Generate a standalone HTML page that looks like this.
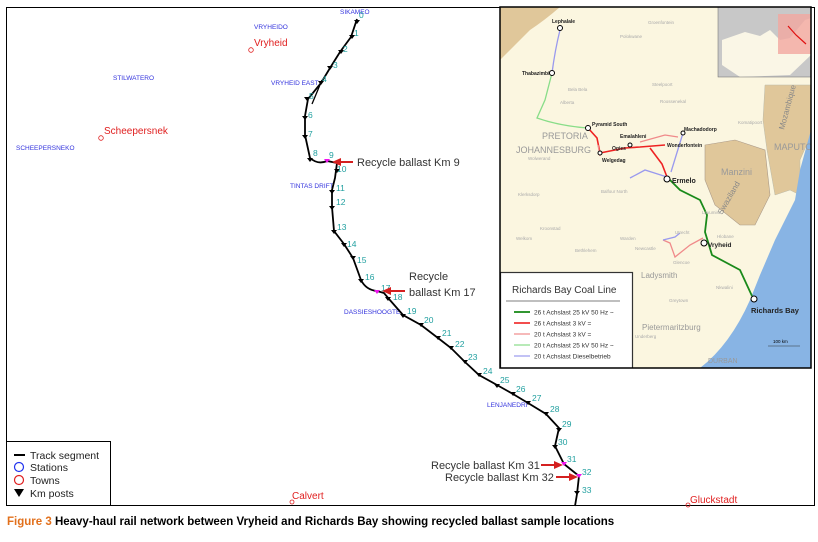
<!DOCTYPE html>
<html><head><meta charset="utf-8"><style>
body{margin:0;background:#fff;width:818px;height:537px;overflow:hidden;font-family:"Liberation Sans",sans-serif}
</style></head><body>
<svg width="818" height="537" viewBox="0 0 818 537" xmlns="http://www.w3.org/2000/svg" font-family="Liberation Sans, sans-serif">
<rect x="6.5" y="7.5" width="808" height="498" fill="#fff" stroke="#000" stroke-width="1"/>
<g fill="#3333dd" font-size="6.5">
<text x="254" y="29">VRYHEIDO</text>
<text x="113" y="80">STILWATERO</text>
<text x="271" y="85">VRYHEID EAST</text>
<text x="16" y="150">SCHEEPERSNEKO</text>
<text x="290" y="188">TINTAS DRIFT</text>
<text x="344" y="314">DASSIESHOOGTE</text>
<text x="487" y="407">LENJANEDRI</text>
<text x="340" y="14">SIKAMEO</text>
</g>
<g fill="#e02020" font-size="10">
<text x="254" y="46">Vryheid</text>
<text x="104" y="134">Scheepersnek</text>
<text x="292" y="499">Calvert</text>
<text x="690" y="503">Gluckstadt</text>
</g>
<g fill="none" stroke="#e02020" stroke-width="0.8">
<circle cx="251" cy="50" r="2.3"/><circle cx="101" cy="138" r="2.3"/><circle cx="292" cy="502" r="2"/><circle cx="688" cy="505" r="2"/>
</g>
<path d="M357,19 L351,37 L340,52 L330,68 L321,83 L308,99 L305,116 L305,135 L310,158 Q318,165 327,161 L337,163 L335,178 L332,190 L332,207 L334,231 L344,244 L353,258 L361,280 Q366,290 377,291 L384,293 L389,299 L403,315 L421,325 L438,338 L451,348 L465,362 L479,375 L497,385 L513,394 L528,403 L546,414 L559,428 L555,446 L564,464 L579,476 L577,494 L575,506" fill="none" stroke="#000" stroke-width="1.8"/>
<path d="M322,80 L312,104" stroke="#000" stroke-width="1.3"/>
<g fill="#000">
<path d="M354,20h6l-3,4z M349,35h6l-3,4z M338,50h6l-3,4z M327,66h6l-3,4z M318,81h6l-3,4z M304,97h6l-3,4z M302,116h6l-3,4z M302,135h6l-3,4z M307,158h6l-3,4z M334,169h6l-3,4z M329,190h6l-3,4z M329,206h6l-3,4z M331,230h6l-3,4z M341,243h6l-3,4z M350,256h6l-3,4z M358,279h6l-3,4z M385,297h6l-3,4z M400,314h6l-3,4z M418,323h6l-3,4z M435,336h6l-3,4z M448,346h6l-3,4z M462,360h6l-3,4z M476,373h6l-3,4z M494,384h6l-3,4z M510,392h6l-3,4z M525,401h6l-3,4z M543,412h6l-3,4z M556,428h6l-3,4z M552,445h6l-3,4z M574,491h6l-3,4z"/>
</g>
<g fill="#ee11ee"><path d="M324,159h6l-3,4z M374,290h6l-3,4z M561,462h6l-3,4z M576,474h6l-3,4z"/></g>
<g fill="#22a0a0" font-size="8.5">
<text x="359" y="18">0</text><text x="354" y="36">1</text><text x="343" y="52">2</text><text x="333" y="68">3</text><text x="322" y="82">4</text><text x="309" y="99">5</text>
<text x="308" y="118">6</text><text x="308" y="137">7</text><text x="313" y="156">8</text><text x="329" y="158">9</text><text x="337" y="172">10</text><text x="336" y="191">11</text><text x="336" y="205">12</text><text x="337" y="230">13</text><text x="347" y="247">14</text><text x="357" y="263">15</text><text x="365" y="280">16</text><text x="381" y="291">17</text><text x="393" y="300">18</text><text x="407" y="314">19</text><text x="424" y="323">20</text><text x="442" y="336">21</text><text x="455" y="347">22</text><text x="468" y="360">23</text><text x="483" y="374">24</text><text x="500" y="383">25</text><text x="516" y="392">26</text><text x="532" y="401">27</text><text x="550" y="412">28</text><text x="562" y="427">29</text><text x="558" y="445">30</text><text x="567" y="462">31</text><text x="582" y="475">32</text><text x="582" y="493">33</text>
</g>
<g fill="#d42020" stroke="#d42020" stroke-width="2">
<line x1="353" y1="162" x2="338" y2="162"/><path d="M332,162 l9,-4 v8z" stroke="none"/>
<line x1="405" y1="291" x2="388" y2="291"/><path d="M382,291 l9,-4 v8z" stroke="none"/>
<line x1="541" y1="465" x2="556" y2="465"/><path d="M563,465 l-9,-4 v8z" stroke="none"/>
<line x1="556" y1="477" x2="571" y2="477"/><path d="M578,477 l-9,-4 v8z" stroke="none"/>
</g>
<g fill="#333" font-size="11">
<text x="357" y="166">Recycle ballast Km 9</text>
<text x="409" y="280">Recycle</text><text x="409" y="296">ballast Km 17</text>
<text x="431" y="469">Recycle ballast Km 31</text>
<text x="445" y="481">Recycle ballast Km 32</text>
</g>
<rect x="6.5" y="441.5" width="104" height="64" fill="#fff" stroke="#000"/>
<line x1="14" y1="455" x2="25" y2="455" stroke="#000" stroke-width="2"/>
<circle cx="19" cy="467" r="4.5" fill="none" stroke="#2233ee" stroke-width="1.2"/>
<circle cx="19" cy="480" r="4.5" fill="none" stroke="#e02020" stroke-width="1.2"/>
<path d="M14,489h10l-5,8z" fill="#000"/>
<g font-size="10.5" fill="#222"><text x="30" y="459">Track segment</text><text x="30" y="471">Stations</text><text x="30" y="484">Towns</text><text x="30" y="497">Km posts</text></g>
<text x="7" y="525" font-size="11.5" font-weight="bold" fill="#000"><tspan fill="#e2701c">Figure 3 </tspan>Heavy-haul rail network between Vryheid and Richards Bay showing recycled ballast sample locations</text>
<g>
<clipPath id="c"><rect x="500" y="7" width="311" height="361"/></clipPath>
<g clip-path="url(#c)">
<rect x="500" y="7" width="311" height="361" fill="#fbf6e0"/>
<path d="M500,7 L560,7 Q545,20 530,30 L515,45 L500,60z" fill="#e0c79a"/>
<path d="M765,85 L811,85 L811,135 L800,160 L800,195 L790,190 L775,195 L767,150 L763,120z" fill="#e0c79a" stroke="#bba" stroke-width="0.5"/>
<path d="M705,145 L735,140 L765,150 L770,195 L755,225 L740,225 L715,205 L705,180z" fill="#e0c79a" stroke="#a98" stroke-width="0.6"/>
<path d="M811,130 L811,368 L700,368 Q730,345 750,300 L760,275 L775,240 L795,200 L800,170z" fill="#88b4e4"/>
<rect x="718" y="7" width="93" height="70" fill="#c8c8c8"/>
<path d="M722,40 L745,32 L760,36 L770,30 L780,40 L790,38 L805,20 L811,18 L811,55 L790,75 L740,77 L722,65z" fill="#faf6e6"/>
<rect x="778" y="14" width="33" height="40" fill="#f2a7a0" opacity="0.8"/>
<path d="M788,26 L796,35 L806,44" stroke="#e01010" fill="none" stroke-width="1.2"/>
<rect x="718" y="7" width="93" height="70" fill="none" stroke="#666" stroke-width="0.5"/>
<g fill="none" stroke-width="1.3">
<path d="M560,30 Q555,50 552,73" stroke="#9999ee"/>
<path d="M552,73 L545,100 L537,118 Q560,126 588,128" stroke="#88dd88"/>
<path d="M588,128 L597,138 L600,153 M600,153 L625,148 L640,147 M640,147 L665,145 M650,148 L662,164 L667,177" stroke="#ee2222" stroke-width="1.6"/>
<path d="M640,142 L665,135 L678,137 M598,145 L600,156" stroke="#f08a8a"/>
<path d="M683,133 L671,172 M630,178 L645,170 L667,177" stroke="#9999ee"/>
<path d="M667,177 L680,190 L700,200 L707,215 L705,232 L712,255 L740,270 L752,296" stroke="#1a8a1a" stroke-width="1.8"/>
<path d="M703,238 L690,245 L675,257 L670,243 L663,240" stroke="#f08a8a"/>
<path d="M663,240 L675,237 L680,233" stroke="#9999ee"/>
</g>
<g fill="#fff" stroke="#000" stroke-width="1"><circle cx="560" cy="28" r="2.5"/><circle cx="552" cy="73" r="2.5"/><circle cx="588" cy="128" r="2.5"/><circle cx="667" cy="179" r="3"/><circle cx="704" cy="243" r="3"/><circle cx="754" cy="299" r="3"/><circle cx="683" cy="133" r="2"/><circle cx="630" cy="145" r="2"/><circle cx="600" cy="153" r="2"/></g>
<g font-size="5" font-weight="bold" fill="#222">
<text x="552" y="23">Lephalale</text><text x="522" y="75">Thabazimbi</text><text x="592" y="126">Pyramid South</text><text x="620" y="138">Emalahleni</text><text x="684" y="131">Machadodorp</text><text x="667" y="147">Wonderfontein</text><text x="602" y="162">Welgedag</text><text x="612" y="150">Ogies</text>
</g>
<text x="672" y="183" font-size="7" font-weight="bold" fill="#222">Ermelo</text>
<text x="708" y="247" font-size="6.5" font-weight="bold" fill="#222">Vryheid</text>
<text x="751" y="313" font-size="7.5" font-weight="bold" fill="#222">Richards Bay</text>
<g fill="#999" font-size="9"><text x="542" y="139">PRETORIA</text><text x="516" y="153">JOHANNESBURG</text><text x="774" y="150">MAPUTO</text><text x="721" y="175">Manzini</text><text x="641" y="278" font-size="8">Ladysmith</text><text x="642" y="330" font-size="8">Pietermaritzburg</text><text x="708" y="363" font-size="7">DURBAN</text></g>
<text x="722" y="215" font-size="8" fill="#888" transform="rotate(-60 722 215)">Swaziland</text>
<text x="784" y="130" font-size="8" fill="#888" transform="rotate(-75 784 130)">Mozambique</text>
<g fill="#aaa" font-size="4.5"><text x="648" y="24">Groenfontein</text><text x="620" y="38">Polokwane</text><text x="652" y="86">Steelpoort</text><text x="568" y="91">Bela Bela</text><text x="660" y="103">Roossenekal</text><text x="560" y="104">Alberta</text><text x="738" y="124">Komatipoort</text><text x="528" y="160">Wolwerand</text><text x="601" y="193">Balfour North</text><text x="518" y="196">Klerksdorp</text><text x="540" y="230">Kroonstad</text><text x="516" y="240">Welkom</text><text x="620" y="240">Warden</text><text x="575" y="252">Bethlehem</text><text x="635" y="250">Newcastle</text><text x="675" y="234">Utrecht</text><text x="673" y="264">Glencoe</text><text x="717" y="238">Hlobane</text><text x="716" y="289">Nkwalini</text><text x="669" y="302">Greytown</text><text x="635" y="338">Underberg</text><text x="702" y="214">Lavumisa</text></g>
<line x1="768" y1="346" x2="800" y2="346" stroke="#333" stroke-width="0.6"/><text x="773" y="343" font-size="4.5">100 km</text>
<rect x="500.5" y="272.5" width="132" height="96" fill="#fff" stroke="#333" stroke-width="1.2"/>
<text x="512" y="293" font-size="10" fill="#333">Richards Bay Coal Line</text>
<line x1="506" y1="301" x2="620" y2="301" stroke="#999" stroke-width="1.3"/>
<g stroke-width="1.2"><line x1="514" y1="312" x2="530" y2="312" stroke="#1a8a1a" stroke-width="1.8"/><line x1="514" y1="323" x2="530" y2="323" stroke="#ee2222" stroke-width="1.6"/><line x1="514" y1="334" x2="530" y2="334" stroke="#f08a8a"/><line x1="514" y1="345" x2="530" y2="345" stroke="#88dd88"/><line x1="514" y1="356" x2="530" y2="356" stroke="#9999ee"/></g>
<g font-size="6.5" fill="#333"><text x="534" y="314.5">26 t Achslast 25 kV 50 Hz ~</text><text x="534" y="325.5">26 t Achslast 3 kV =</text><text x="534" y="336.5">20 t Achslast 3 kV =</text><text x="534" y="347.5">20 t Achslast 25 kV 50 Hz ~</text><text x="534" y="358.5">20 t Achslast Dieselbetrieb</text></g>
</g>
<rect x="500" y="7" width="311" height="361" fill="none" stroke="#000" stroke-width="1.5"/>
</g>
</svg>
</body></html>
